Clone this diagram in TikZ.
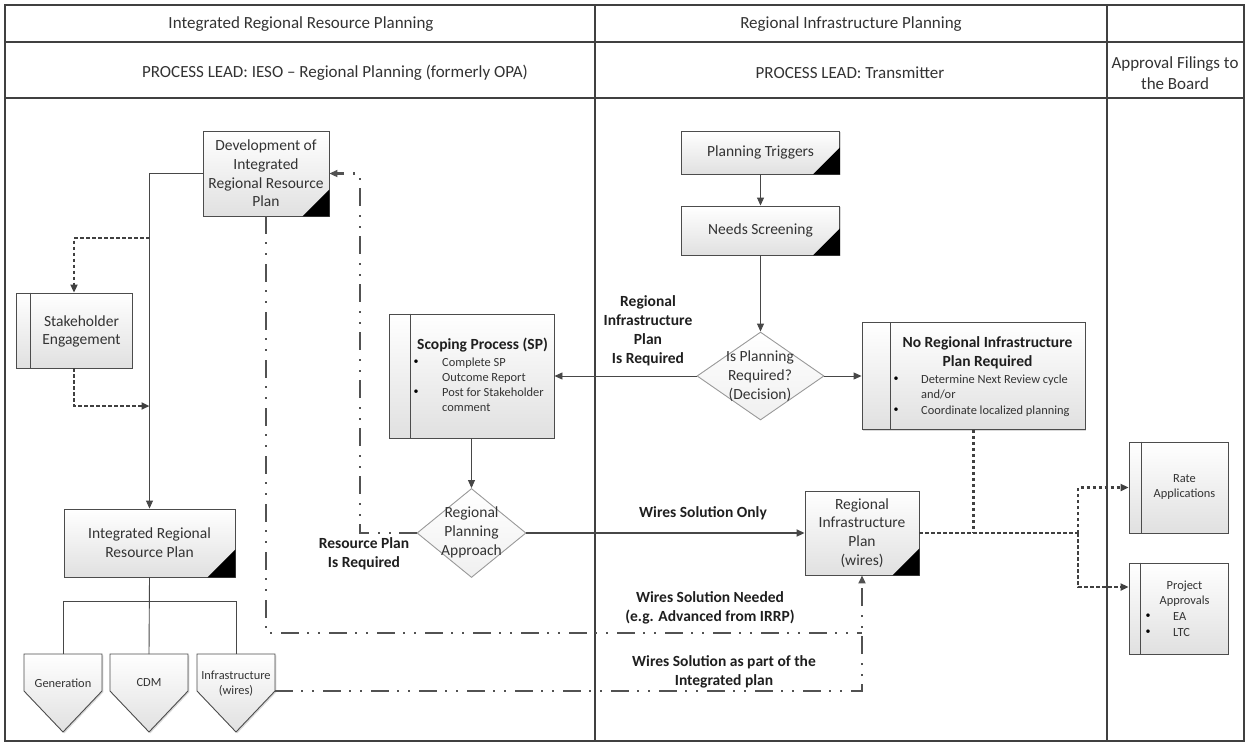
\documentclass[tikz,border=0pt]{standalone}
\usepackage{fontspec}
\setmainfont{Carlito}
\usetikzlibrary{arrows.meta,shapes.geometric,shadows}
\begin{document}
\begin{tikzpicture}[x=1pt,y=-1pt,
  frame/.style={draw=black!75, line width=1.1pt},
  hdr/.style={font=\fontsize{17}{21}\selectfont, text=black!80, align=center, inner sep=0},
  pbox/.style={draw=black!70, line width=0.9pt, top color=white, bottom color=black!12,
    drop shadow={shadow xshift=1.3pt,shadow yshift=-1.3pt,opacity=0.3}, inner sep=0},
  btxt/.style={font=\fontsize{15.5}{18.7}\selectfont, text=black!80, align=center, inner sep=0},
  stxt/.style={font=\fontsize{12.4}{15}\selectfont, text=black!80, inner sep=0},
  bul/.style={font=\fontsize{10}{12}\selectfont, text=black, inner sep=0},
  lbl/.style={font=\bfseries\fontsize{15.5}{19}\selectfont, text=black!88, align=center, inner sep=0},
  dia/.style={diamond, draw=black!40, line width=0.9pt, top color=white, bottom color=black!6, inner sep=0},
  conn/.style={draw=black!72, line width=0.9pt},
  tip/.style={-{Triangle[length=8pt,width=7pt]}},
  arr/.style={conn, tip},
  dotl/.style={draw=black!75, line width=2.1pt, dash pattern=on 3.5pt off 2.5pt},
  dashdot/.style={draw=black!68, line width=2.3pt, dash pattern=on 18pt off 8pt on 2pt off 9pt on 2pt off 9pt},
  inner/.style={draw=black!70, line width=0.9pt},
  corner/.style={fill=black}
]
\useasboundingbox (0,0) rectangle (1249,745);

% ---------- frame ----------
\draw[frame] (5,5) rectangle (1244,741);
\draw[frame] (5,42) -- (1244,42);
\draw[frame] (5,98) -- (1244,98);
\draw[frame] (595,5) -- (595,741);
\draw[frame] (1107,5) -- (1107,741);

\node[hdr] (h1) at (301,24) {Integrated Regional Resource Planning};
\node[hdr] (h2) at (851,24) {Regional Infrastructure Planning};
\node[hdr] (h3) at (335,73) {PROCESS LEAD: IESO – Regional Planning (formerly OPA)};
\node[hdr] (h4) at (850,73) {PROCESS LEAD: Transmitter};
\node[hdr] (h5) at (1175,73) {Approval Filings to\\the Board};

% ---------- process boxes ----------
\node[pbox, btxt, minimum width=126pt, minimum height=85pt] (dev) at (266,173.5)
  {Development of\\Integrated\\Regional Resource\\Plan};
\fill[corner] (dev.south east) -- ++(-27,0) -- ++(27,-27) -- cycle;

\node[pbox, btxt, minimum width=158pt, minimum height=43pt] (pt) at (760.5,152.5) {Planning Triggers};
\fill[corner] (pt.south east) -- ++(-27,0) -- ++(27,-27) -- cycle;

\node[pbox, btxt, minimum width=158pt, minimum height=49pt] (ns) at (760.5,230.5) {Needs Screening};
\fill[corner] (ns.south east) -- ++(-27,0) -- ++(27,-27) -- cycle;

\node[pbox, btxt, minimum width=171pt, minimum height=68pt] (irrp) at (149.5,543)
  {Integrated Regional\\Resource Plan};
\fill[corner] (irrp.south east) -- ++(-28,0) -- ++(28,-28) -- cycle;

\node[pbox, btxt, minimum width=114pt, minimum height=84pt] (rip) at (862,533)
  {Regional\\Infrastructure\\Plan\\(wires)};
\fill[corner] (rip.south east) -- ++(-27,0) -- ++(27,-27) -- cycle;

% stakeholder
\node[pbox, minimum width=116pt, minimum height=75pt] (stake) at (74,330.5) {};
\draw[inner] ([xshift=15pt]stake.north west) -- ([xshift=15pt]stake.south west);
\node[btxt] (staket) at (81.5,331.5) {Stakeholder\\Engagement};

% scoping
\node[pbox, minimum width=165pt, minimum height=124pt] (scope) at (471.5,376) {};
\draw[inner] ([xshift=22pt]scope.north west) -- ([xshift=22pt]scope.south west);
\node[lbl] (scopet) at (482.5,345) {Scoping Process (SP)};
\node[bul] (sb1) at (416,362) {•};
\node[bul] (sb2) at (416,392) {•};
\node[stxt, anchor=base west] (s1) at (442,366) {Complete SP};
\node[stxt, anchor=base west] (s2) at (442,381) {Outcome Report};
\node[stxt, anchor=base west] (s3) at (442,396) {Post for Stakeholder};
\node[stxt, anchor=base west] (s4) at (442,411) {comment};

% no regional plan
\node[pbox, minimum width=223pt, minimum height=107pt] (noreg) at (973.5,376) {};
\draw[inner] ([xshift=29pt]noreg.north west) -- ([xshift=29pt]noreg.south west);
\node[lbl] (noregt) at (987.5,352.5) {No Regional Infrastructure\\Plan Required};
\node[bul] (nb1) at (896,379) {•};
\node[bul] (nb2) at (896,410) {•};
\node[stxt, anchor=base west] (n1) at (921,383) {Determine Next Review cycle};
\node[stxt, anchor=base west] (n2) at (921,398) {and/or};
\node[stxt, anchor=base west] (n3) at (921,414) {Coordinate localized planning};

% rate applications
\node[pbox, minimum width=99pt, minimum height=91pt] (rate) at (1178.5,487.5) {};
\draw[inner] ([xshift=13pt]rate.north west) -- ([xshift=13pt]rate.south west);
\node[stxt, align=center] (ratet) at (1184.5,487) {Rate\\Applications};

% project approvals
\node[pbox, minimum width=99pt, minimum height=91pt] (proj) at (1178.5,608.5) {};
\draw[inner] ([xshift=12pt]proj.north west) -- ([xshift=12pt]proj.south west);
\node[stxt, align=center] (projt) at (1184.5,593.5) {Project\\Approvals};
\node[bul] (pb1) at (1148,616) {•};
\node[bul] (pb2) at (1148,632) {•};
\node[stxt, anchor=base west] (p1) at (1173,620) {EA};
\node[stxt, anchor=base west] (p2) at (1173,636) {LTC};

% ---------- decisions ----------
\node[dia, minimum width=127pt, minimum height=88pt] (dec) at (760.5,376) {};
\node[btxt] (dect) at (760,376) {Is Planning\\Required?\\(Decision)};
\node[dia, minimum width=109pt, minimum height=89pt] (rpa) at (471.5,533) {};
\node[btxt] (rpat) at (471.5,532.5) {Regional\\Planning\\Approach};

% ---------- pentagons ----------
\foreach \cx/\nm in {63/gen,149/cdm,236/inf}{
  \draw[draw=black!70, line width=0.9pt, top color=white, bottom color=black!12,
    drop shadow={shadow xshift=1.3pt,shadow yshift=-1.3pt,opacity=0.3}]
    (\cx-39,654) -- (\cx+39,654) -- (\cx+39,691) -- (\cx,732) -- (\cx-39,691) -- cycle;
  \coordinate (\nm top) at (\cx,654);
}
\coordinate (infE) at (275,691);
\node[stxt] (gent) at (63,683) {Generation};
\node[stxt] (cdmt) at (149,683) {CDM};
\node[stxt, align=center] (inft) at (236,683.5) {Infrastructure\\(wires)};

% ---------- connectors ----------
\coordinate (br1) at (149.5,238);
\coordinate (j1) at (149.5,406);
\coordinate (tj) at (149.5,601);
\draw[arr] (dev.west) -| (irrp.north);
\draw[dotl, tip] (br1) -| (stake.north);
\draw[dotl, tip] (stake.south) |- (j1);

\draw[conn] (irrp.south) -- (cdmtop);
\draw[conn] (gentop) -- (gentop |- tj) -- (inftop |- tj) -- (inftop);

\draw[arr] (pt.south) -- (ns.north);
\draw[arr] (ns.south) -- (dec.north);
\draw[arr] (dec.west) -- (scope.east);
\draw[arr] (dec.east) -- (noreg.west);
\draw[arr] (scope.south) -- (rpa.north);
\draw[draw=black!72, line width=1.8pt, tip] (rpa.east) -- (rip.west);

\coordinate (rpaL) at (360,533);
\coordinate (m1) at (862,633);
\draw[dashdot, tip] (rpa.west) -- (rpaL) |- (dev.east);
\draw[dashdot] (dev.south) |- (m1);
\draw[dashdot, tip] (infE) -| (rip.south);

\coordinate (dj) at (1078,533);
\draw[dotl] (rip.east) -- (dj);
\draw[dotl] (noreg.south) -- (noreg.south |- dj);
\draw[dotl, tip] (dj) |- (rate.west);
\draw[dotl, tip] (dj) |- ([yshift=21.5pt]proj.west);

% ---------- labels ----------
\node[lbl] (l1) at (648,331) {Regional\\Infrastructure\\Plan\\Is Required};
\node[lbl] (l2) at (703,513) {Wires Solution Only};
\node[lbl] (l3) at (364,554) {Resource Plan\\Is Required};
\node[lbl] (l4) at (710,607.5) {Wires Solution Needed\\(e.g. Advanced from IRRP)};
\node[lbl] (l5) at (724,671.5) {Wires Solution as part of the\\Integrated plan};
\end{tikzpicture}
\end{document}
